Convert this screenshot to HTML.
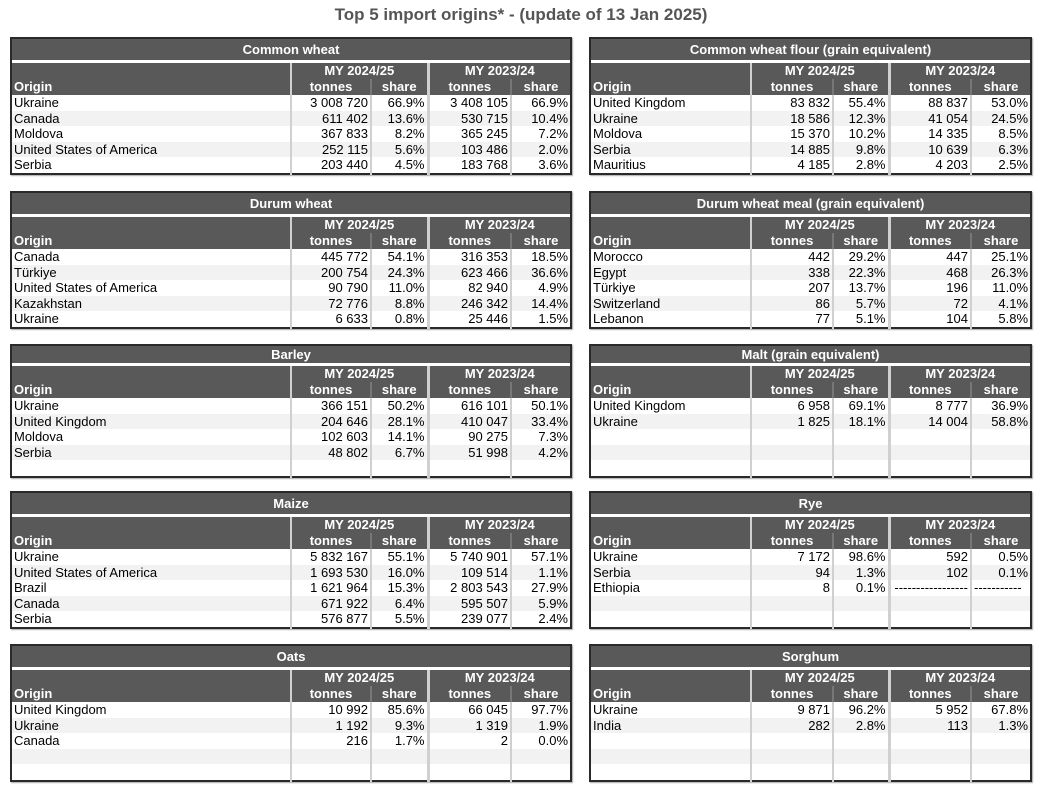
<!DOCTYPE html>
<html><head><meta charset="utf-8"><style>
body{margin:0;width:1038px;height:790px;background:#fff;font-family:"Liberation Sans",Arial,sans-serif;position:relative;overflow:hidden}
h1{position:absolute;top:5px;left:0;width:1042px;text-align:center;margin:0;font-size:17px;color:#555;font-weight:bold}
table{position:absolute;border-collapse:collapse;table-layout:fixed;font-size:13px;border:2px solid #2a2a2a;box-shadow:1px 1px 1px #aaa}
td{padding:0 2px;height:15.6px;line-height:15.6px;white-space:nowrap;overflow:hidden;color:#000;text-align:right}
td:first-child{text-align:left}
tr.ti td{background:#595959;color:#fff;font-weight:bold;text-align:center;height:21px;line-height:21px}
tr.g td{height:3px;line-height:0;background:#fff;padding:0}
tr.h td{background:#595959;color:#fff;font-weight:bold;text-align:center;height:16px;line-height:16px}
tr.h td:first-child{text-align:left}
tr.e td{background:#f2f2f2}
td.a{border-left:2px solid #d0d0d0}
td.b{border-left:3px solid #d0d0d0}
tr.h td.s{border-left:2px solid #777}
tr.h td.n{border-left:2px solid #d0d0d0}
.L{left:10px;width:560px}
.R{left:589px;width:441px}
</style></head><body>
<h1>Top 5 import origins* - (update of 13 Jan 2025)</h1>

<table class="L" style="top:37px"><colgroup><col style="width:280px"><col style="width:80px"><col style="width:57px"><col style="width:83px"><col style="width:60px"></colgroup>
<tr class="ti"><td colspan="5">Common wheat</td></tr><tr class="g"><td colspan="5"></td></tr>
<tr class="h"><td></td><td class="n" colspan="2">MY 2024/25</td><td class="b" colspan="2">MY 2023/24</td></tr>
<tr class="h"><td>Origin</td><td class="n">tonnes</td><td class="s">share</td><td class="b">tonnes</td><td class="s">share</td></tr>
<tr><td>Ukraine</td><td class="a">3 008 720</td><td class="a">66.9%</td><td class="b">3 408 105</td><td class="a">66.9%</td></tr>
<tr class="e"><td>Canada</td><td class="a">611 402</td><td class="a">13.6%</td><td class="b">530 715</td><td class="a">10.4%</td></tr>
<tr><td>Moldova</td><td class="a">367 833</td><td class="a">8.2%</td><td class="b">365 245</td><td class="a">7.2%</td></tr>
<tr class="e"><td>United States of America</td><td class="a">252 115</td><td class="a">5.6%</td><td class="b">103 486</td><td class="a">2.0%</td></tr>
<tr><td>Serbia</td><td class="a">203 440</td><td class="a">4.5%</td><td class="b">183 768</td><td class="a">3.6%</td></tr>
</table>

<table class="R" style="top:37px"><colgroup><col style="width:161px"><col style="width:82px"><col style="width:56px"><col style="width:82px"><col style="width:60px"></colgroup>
<tr class="ti"><td colspan="5">Common wheat flour (grain equivalent)</td></tr><tr class="g"><td colspan="5"></td></tr>
<tr class="h"><td></td><td class="n" colspan="2">MY 2024/25</td><td class="b" colspan="2">MY 2023/24</td></tr>
<tr class="h"><td>Origin</td><td class="n">tonnes</td><td class="s">share</td><td class="b">tonnes</td><td class="s">share</td></tr>
<tr><td>United Kingdom</td><td class="a">83 832</td><td class="a">55.4%</td><td class="b">88 837</td><td class="a">53.0%</td></tr>
<tr class="e"><td>Ukraine</td><td class="a">18 586</td><td class="a">12.3%</td><td class="b">41 054</td><td class="a">24.5%</td></tr>
<tr><td>Moldova</td><td class="a">15 370</td><td class="a">10.2%</td><td class="b">14 335</td><td class="a">8.5%</td></tr>
<tr class="e"><td>Serbia</td><td class="a">14 885</td><td class="a">9.8%</td><td class="b">10 639</td><td class="a">6.3%</td></tr>
<tr><td>Mauritius</td><td class="a">4 185</td><td class="a">2.8%</td><td class="b">4 203</td><td class="a">2.5%</td></tr>
</table>

<table class="L" style="top:191px"><colgroup><col style="width:280px"><col style="width:80px"><col style="width:57px"><col style="width:83px"><col style="width:60px"></colgroup>
<tr class="ti"><td colspan="5">Durum wheat</td></tr><tr class="g"><td colspan="5"></td></tr>
<tr class="h"><td></td><td class="n" colspan="2">MY 2024/25</td><td class="b" colspan="2">MY 2023/24</td></tr>
<tr class="h"><td>Origin</td><td class="n">tonnes</td><td class="s">share</td><td class="b">tonnes</td><td class="s">share</td></tr>
<tr><td>Canada</td><td class="a">445 772</td><td class="a">54.1%</td><td class="b">316 353</td><td class="a">18.5%</td></tr>
<tr class="e"><td>Türkiye</td><td class="a">200 754</td><td class="a">24.3%</td><td class="b">623 466</td><td class="a">36.6%</td></tr>
<tr><td>United States of America</td><td class="a">90 790</td><td class="a">11.0%</td><td class="b">82 940</td><td class="a">4.9%</td></tr>
<tr class="e"><td>Kazakhstan</td><td class="a">72 776</td><td class="a">8.8%</td><td class="b">246 342</td><td class="a">14.4%</td></tr>
<tr><td>Ukraine</td><td class="a">6 633</td><td class="a">0.8%</td><td class="b">25 446</td><td class="a">1.5%</td></tr>
</table>

<table class="R" style="top:191px"><colgroup><col style="width:161px"><col style="width:82px"><col style="width:56px"><col style="width:82px"><col style="width:60px"></colgroup>
<tr class="ti"><td colspan="5">Durum wheat meal (grain equivalent)</td></tr><tr class="g"><td colspan="5"></td></tr>
<tr class="h"><td></td><td class="n" colspan="2">MY 2024/25</td><td class="b" colspan="2">MY 2023/24</td></tr>
<tr class="h"><td>Origin</td><td class="n">tonnes</td><td class="s">share</td><td class="b">tonnes</td><td class="s">share</td></tr>
<tr><td>Morocco</td><td class="a">442</td><td class="a">29.2%</td><td class="b">447</td><td class="a">25.1%</td></tr>
<tr class="e"><td>Egypt</td><td class="a">338</td><td class="a">22.3%</td><td class="b">468</td><td class="a">26.3%</td></tr>
<tr><td>Türkiye</td><td class="a">207</td><td class="a">13.7%</td><td class="b">196</td><td class="a">11.0%</td></tr>
<tr class="e"><td>Switzerland</td><td class="a">86</td><td class="a">5.7%</td><td class="b">72</td><td class="a">4.1%</td></tr>
<tr><td>Lebanon</td><td class="a">77</td><td class="a">5.1%</td><td class="b">104</td><td class="a">5.8%</td></tr>
</table>

<table class="L" style="top:344px"><colgroup><col style="width:280px"><col style="width:80px"><col style="width:57px"><col style="width:83px"><col style="width:60px"></colgroup>
<tr class="ti"><td colspan="5" style="height:17px;line-height:17px">Barley</td></tr><tr class="g"><td colspan="5"></td></tr>
<tr class="h"><td></td><td class="n" colspan="2">MY 2024/25</td><td class="b" colspan="2">MY 2023/24</td></tr>
<tr class="h"><td>Origin</td><td class="n">tonnes</td><td class="s">share</td><td class="b">tonnes</td><td class="s">share</td></tr>
<tr><td>Ukraine</td><td class="a">366 151</td><td class="a">50.2%</td><td class="b">616 101</td><td class="a">50.1%</td></tr>
<tr class="e"><td>United Kingdom</td><td class="a">204 646</td><td class="a">28.1%</td><td class="b">410 047</td><td class="a">33.4%</td></tr>
<tr><td>Moldova</td><td class="a">102 603</td><td class="a">14.1%</td><td class="b">90 275</td><td class="a">7.3%</td></tr>
<tr class="e"><td>Serbia</td><td class="a">48 802</td><td class="a">6.7%</td><td class="b">51 998</td><td class="a">4.2%</td></tr>
<tr><td></td><td class="a"></td><td class="a"></td><td class="b"></td><td class="a"></td></tr>
</table>

<table class="R" style="top:344px"><colgroup><col style="width:161px"><col style="width:82px"><col style="width:56px"><col style="width:82px"><col style="width:60px"></colgroup>
<tr class="ti"><td colspan="5" style="height:17px;line-height:17px">Malt (grain equivalent)</td></tr><tr class="g"><td colspan="5"></td></tr>
<tr class="h"><td></td><td class="n" colspan="2">MY 2024/25</td><td class="b" colspan="2">MY 2023/24</td></tr>
<tr class="h"><td>Origin</td><td class="n">tonnes</td><td class="s">share</td><td class="b">tonnes</td><td class="s">share</td></tr>
<tr><td>United Kingdom</td><td class="a">6 958</td><td class="a">69.1%</td><td class="b">8 777</td><td class="a">36.9%</td></tr>
<tr class="e"><td>Ukraine</td><td class="a">1 825</td><td class="a">18.1%</td><td class="b">14 004</td><td class="a">58.8%</td></tr>
<tr><td></td><td class="a"></td><td class="a"></td><td class="b"></td><td class="a"></td></tr>
<tr class="e"><td></td><td class="a"></td><td class="a"></td><td class="b"></td><td class="a"></td></tr>
<tr><td></td><td class="a"></td><td class="a"></td><td class="b"></td><td class="a"></td></tr>
</table>

<table class="L" style="top:491px"><colgroup><col style="width:280px"><col style="width:80px"><col style="width:57px"><col style="width:83px"><col style="width:60px"></colgroup>
<tr class="ti"><td colspan="5">Maize</td></tr><tr class="g"><td colspan="5"></td></tr>
<tr class="h"><td></td><td class="n" colspan="2">MY 2024/25</td><td class="b" colspan="2">MY 2023/24</td></tr>
<tr class="h"><td>Origin</td><td class="n">tonnes</td><td class="s">share</td><td class="b">tonnes</td><td class="s">share</td></tr>
<tr><td>Ukraine</td><td class="a">5 832 167</td><td class="a">55.1%</td><td class="b">5 740 901</td><td class="a">57.1%</td></tr>
<tr class="e"><td>United States of America</td><td class="a">1 693 530</td><td class="a">16.0%</td><td class="b">109 514</td><td class="a">1.1%</td></tr>
<tr><td>Brazil</td><td class="a">1 621 964</td><td class="a">15.3%</td><td class="b">2 803 543</td><td class="a">27.9%</td></tr>
<tr class="e"><td>Canada</td><td class="a">671 922</td><td class="a">6.4%</td><td class="b">595 507</td><td class="a">5.9%</td></tr>
<tr><td>Serbia</td><td class="a">576 877</td><td class="a">5.5%</td><td class="b">239 077</td><td class="a">2.4%</td></tr>
</table>

<table class="R" style="top:491px"><colgroup><col style="width:161px"><col style="width:82px"><col style="width:56px"><col style="width:82px"><col style="width:60px"></colgroup>
<tr class="ti"><td colspan="5">Rye</td></tr><tr class="g"><td colspan="5"></td></tr>
<tr class="h"><td></td><td class="n" colspan="2">MY 2024/25</td><td class="b" colspan="2">MY 2023/24</td></tr>
<tr class="h"><td>Origin</td><td class="n">tonnes</td><td class="s">share</td><td class="b">tonnes</td><td class="s">share</td></tr>
<tr><td>Ukraine</td><td class="a">7 172</td><td class="a">98.6%</td><td class="b">592</td><td class="a">0.5%</td></tr>
<tr class="e"><td>Serbia</td><td class="a">94</td><td class="a">1.3%</td><td class="b">102</td><td class="a">0.1%</td></tr>
<tr><td>Ethiopia</td><td class="a">8</td><td class="a">0.1%</td><td class="b">-----------------</td><td class="a" style="text-align:left">-----------</td></tr>
<tr class="e"><td></td><td class="a"></td><td class="a"></td><td class="b"></td><td class="a"></td></tr>
<tr><td></td><td class="a"></td><td class="a"></td><td class="b"></td><td class="a"></td></tr>
</table>

<table class="L" style="top:644px"><colgroup><col style="width:280px"><col style="width:80px"><col style="width:57px"><col style="width:83px"><col style="width:60px"></colgroup>
<tr class="ti"><td colspan="5">Oats</td></tr><tr class="g"><td colspan="5"></td></tr>
<tr class="h"><td></td><td class="n" colspan="2">MY 2024/25</td><td class="b" colspan="2">MY 2023/24</td></tr>
<tr class="h"><td>Origin</td><td class="n">tonnes</td><td class="s">share</td><td class="b">tonnes</td><td class="s">share</td></tr>
<tr><td>United Kingdom</td><td class="a">10 992</td><td class="a">85.6%</td><td class="b">66 045</td><td class="a">97.7%</td></tr>
<tr class="e"><td>Ukraine</td><td class="a">1 192</td><td class="a">9.3%</td><td class="b">1 319</td><td class="a">1.9%</td></tr>
<tr><td>Canada</td><td class="a">216</td><td class="a">1.7%</td><td class="b">2</td><td class="a">0.0%</td></tr>
<tr class="e"><td></td><td class="a"></td><td class="a"></td><td class="b"></td><td class="a"></td></tr>
<tr><td></td><td class="a"></td><td class="a"></td><td class="b"></td><td class="a"></td></tr>
</table>

<table class="R" style="top:644px"><colgroup><col style="width:161px"><col style="width:82px"><col style="width:56px"><col style="width:82px"><col style="width:60px"></colgroup>
<tr class="ti"><td colspan="5">Sorghum</td></tr><tr class="g"><td colspan="5"></td></tr>
<tr class="h"><td></td><td class="n" colspan="2">MY 2024/25</td><td class="b" colspan="2">MY 2023/24</td></tr>
<tr class="h"><td>Origin</td><td class="n">tonnes</td><td class="s">share</td><td class="b">tonnes</td><td class="s">share</td></tr>
<tr><td>Ukraine</td><td class="a">9 871</td><td class="a">96.2%</td><td class="b">5 952</td><td class="a">67.8%</td></tr>
<tr class="e"><td>India</td><td class="a">282</td><td class="a">2.8%</td><td class="b">113</td><td class="a">1.3%</td></tr>
<tr><td></td><td class="a"></td><td class="a"></td><td class="b"></td><td class="a"></td></tr>
<tr class="e"><td></td><td class="a"></td><td class="a"></td><td class="b"></td><td class="a"></td></tr>
<tr><td></td><td class="a"></td><td class="a"></td><td class="b"></td><td class="a"></td></tr>
</table>
</body></html>
